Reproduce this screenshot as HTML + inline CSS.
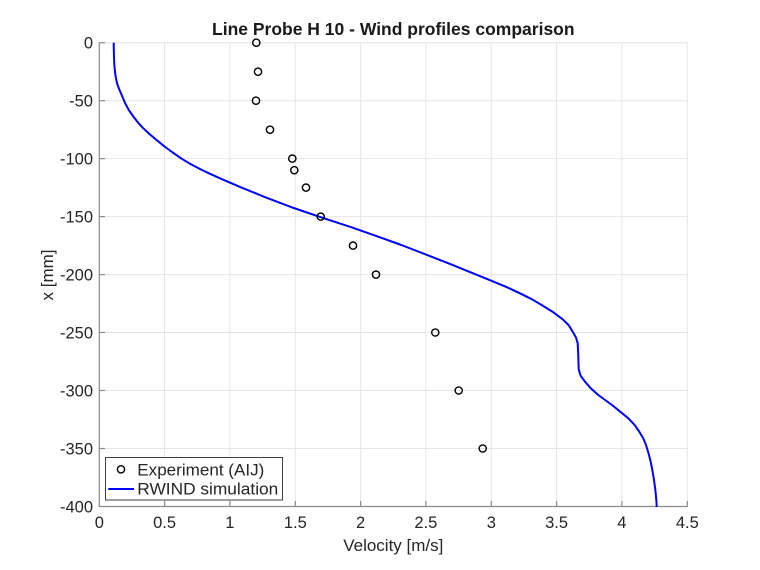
<!DOCTYPE html>
<html>
<head>
<meta charset="utf-8">
<style>
  html, body { margin:0; padding:0; background:#ffffff; }
  svg { display:block; }
  text { font-family: "Liberation Sans", Arial, sans-serif; }
</style>
</head>
<body>
<svg width="760" height="570" viewBox="0 0 760 570" xmlns="http://www.w3.org/2000/svg">
  <rect x="0" y="0" width="760" height="570" fill="#ffffff"/>

  <!-- grid -->
  <g stroke="#e6e6e6" stroke-width="1" fill="none">
    <line x1="164.6" y1="42.7" x2="164.6" y2="506.5"/>
    <line x1="229.9" y1="42.7" x2="229.9" y2="506.5"/>
    <line x1="295.3" y1="42.7" x2="295.3" y2="506.5"/>
    <line x1="360.6" y1="42.7" x2="360.6" y2="506.5"/>
    <line x1="425.9" y1="42.7" x2="425.9" y2="506.5"/>
    <line x1="491.3" y1="42.7" x2="491.3" y2="506.5"/>
    <line x1="556.6" y1="42.7" x2="556.6" y2="506.5"/>
    <line x1="621.9" y1="42.7" x2="621.9" y2="506.5"/>
    <line x1="687.3" y1="42.7" x2="687.3" y2="506.5"/>
    <line x1="99.3" y1="42.7" x2="687.3" y2="42.7"/>
    <line x1="99.3" y1="100.7" x2="687.3" y2="100.7"/>
    <line x1="99.3" y1="158.6" x2="687.3" y2="158.6"/>
    <line x1="99.3" y1="216.6" x2="687.3" y2="216.6"/>
    <line x1="99.3" y1="274.6" x2="687.3" y2="274.6"/>
    <line x1="99.3" y1="332.5" x2="687.3" y2="332.5"/>
    <line x1="99.3" y1="390.5" x2="687.3" y2="390.5"/>
    <line x1="99.3" y1="448.5" x2="687.3" y2="448.5"/>
  </g>

  <!-- axes -->
  <g stroke="#8a8a8a" stroke-width="1.2" fill="none">
    <line x1="99.3" y1="42.2" x2="99.3" y2="507"/>
    <line x1="98.7" y1="506.5" x2="687.8" y2="506.5"/>
    <!-- x ticks -->
    <line x1="164.6" y1="506.5" x2="164.6" y2="501"/>
    <line x1="229.9" y1="506.5" x2="229.9" y2="501"/>
    <line x1="295.3" y1="506.5" x2="295.3" y2="501"/>
    <line x1="360.6" y1="506.5" x2="360.6" y2="501"/>
    <line x1="425.9" y1="506.5" x2="425.9" y2="501"/>
    <line x1="491.3" y1="506.5" x2="491.3" y2="501"/>
    <line x1="556.6" y1="506.5" x2="556.6" y2="501"/>
    <line x1="621.9" y1="506.5" x2="621.9" y2="501"/>
    <line x1="687.3" y1="506.5" x2="687.3" y2="501"/>
    <!-- y ticks -->
    <line x1="99.3" y1="42.7" x2="105" y2="42.7"/>
    <line x1="99.3" y1="100.7" x2="105" y2="100.7"/>
    <line x1="99.3" y1="158.6" x2="105" y2="158.6"/>
    <line x1="99.3" y1="216.6" x2="105" y2="216.6"/>
    <line x1="99.3" y1="274.6" x2="105" y2="274.6"/>
    <line x1="99.3" y1="332.5" x2="105" y2="332.5"/>
    <line x1="99.3" y1="390.5" x2="105" y2="390.5"/>
    <line x1="99.3" y1="448.5" x2="105" y2="448.5"/>
  </g>

  <!-- x tick labels -->
  <g font-size="16.5" fill="#262626" text-anchor="middle">
    <text x="99.3" y="528">0</text>
    <text x="164.6" y="528">0.5</text>
    <text x="229.9" y="528">1</text>
    <text x="295.3" y="528">1.5</text>
    <text x="360.6" y="528">2</text>
    <text x="425.9" y="528">2.5</text>
    <text x="491.3" y="528">3</text>
    <text x="556.6" y="528">3.5</text>
    <text x="621.9" y="528">4</text>
    <text x="687.3" y="528">4.5</text>
  </g>

  <!-- y tick labels -->
  <g font-size="16.5" fill="#262626" text-anchor="end">
    <text x="93" y="48.5">0</text>
    <text x="93" y="106.5">-50</text>
    <text x="93" y="164.4">-100</text>
    <text x="93" y="222.4">-150</text>
    <text x="93" y="280.4">-200</text>
    <text x="93" y="338.3">-250</text>
    <text x="93" y="396.3">-300</text>
    <text x="93" y="454.3">-350</text>
    <text x="93" y="512.3">-400</text>
  </g>

  <!-- axis labels -->
  <text x="393.3" y="551" font-size="17" fill="#262626" text-anchor="middle">Velocity [m/s]</text>
  <text transform="translate(53,275) rotate(-90)" font-size="17" fill="#262626" text-anchor="middle">x [mm]</text>

  <!-- title -->
  <text x="393.3" y="35" font-size="17.5" font-weight="bold" fill="#1a1a1a" text-anchor="middle">Line Probe H 10 - Wind profiles comparison</text>

  <!-- simulation curve -->
  <polyline fill="none" stroke="#0000ff" stroke-width="2" stroke-linejoin="round"
    points="113.7,42.7 113.8,50 114,57 114.3,64 114.8,70 115.5,75.5 116.4,80.5 117.6,85 119.3,89.5 121.7,95 125,103 129,110.3 133.3,116.5 138,122.5 143.3,128.3 150,134.5 157,140.4 164.3,146.3 172,152 181,158.3 190,163.7 200,169 210,173.8 220,178.3 240,186.9 265.7,197.4 292.3,207.5 320.7,217.2 352.3,227.6 380,237.3 400,244.5 426.7,254.8 450,263.9 465.7,270.3 490,280.2 506,286.8 520,293.3 532,299.3 543.3,306 553.5,312.4 562.7,319.3 568.5,325 572.7,331.7 576,337.5 577.7,343.3 578.3,356 578.7,369.3 580.5,375.5 585,381.7 591,388.5 598.3,395 613.3,406 628.3,418.3 634.5,424.8 639.3,431.7 643.2,438.3 646,445 648.6,453.5 650.7,461.7 652.5,471 654,480 655.2,488.5 656,496.7 656.5,502 656.7,507"/>

  <!-- experiment markers -->
  <g fill="none" stroke="#000000" stroke-width="1.4">
    <circle cx="256.3" cy="42.7" r="3.6"/>
    <circle cx="258" cy="71.7" r="3.6"/>
    <circle cx="256" cy="100.7" r="3.6"/>
    <circle cx="270" cy="129.7" r="3.6"/>
    <circle cx="292.3" cy="158.6" r="3.6"/>
    <circle cx="294.3" cy="170.2" r="3.6"/>
    <circle cx="306" cy="187.6" r="3.6"/>
    <circle cx="320.7" cy="216.6" r="3.6"/>
    <circle cx="353" cy="245.6" r="3.6"/>
    <circle cx="376" cy="274.6" r="3.6"/>
    <circle cx="435.3" cy="332.5" r="3.6"/>
    <circle cx="458.7" cy="390.5" r="3.6"/>
    <circle cx="482.7" cy="448.5" r="3.6"/>
  </g>

  <!-- legend -->
  <rect x="105.5" y="457.5" width="177" height="42.5" fill="#ffffff" stroke="#404040" stroke-width="1"/>
  <circle cx="121" cy="469.3" r="3.6" fill="none" stroke="#000000" stroke-width="1.4"/>
  <line x1="108.3" y1="489" x2="134" y2="489" stroke="#0000ff" stroke-width="2"/>
  <g font-size="17" fill="#262626">
    <text x="137.3" y="475.3" textLength="127" lengthAdjust="spacingAndGlyphs">Experiment (AIJ)</text>
    <text x="137.3" y="494.5" textLength="141" lengthAdjust="spacingAndGlyphs">RWIND simulation</text>
  </g>
</svg>
</body>
</html>
